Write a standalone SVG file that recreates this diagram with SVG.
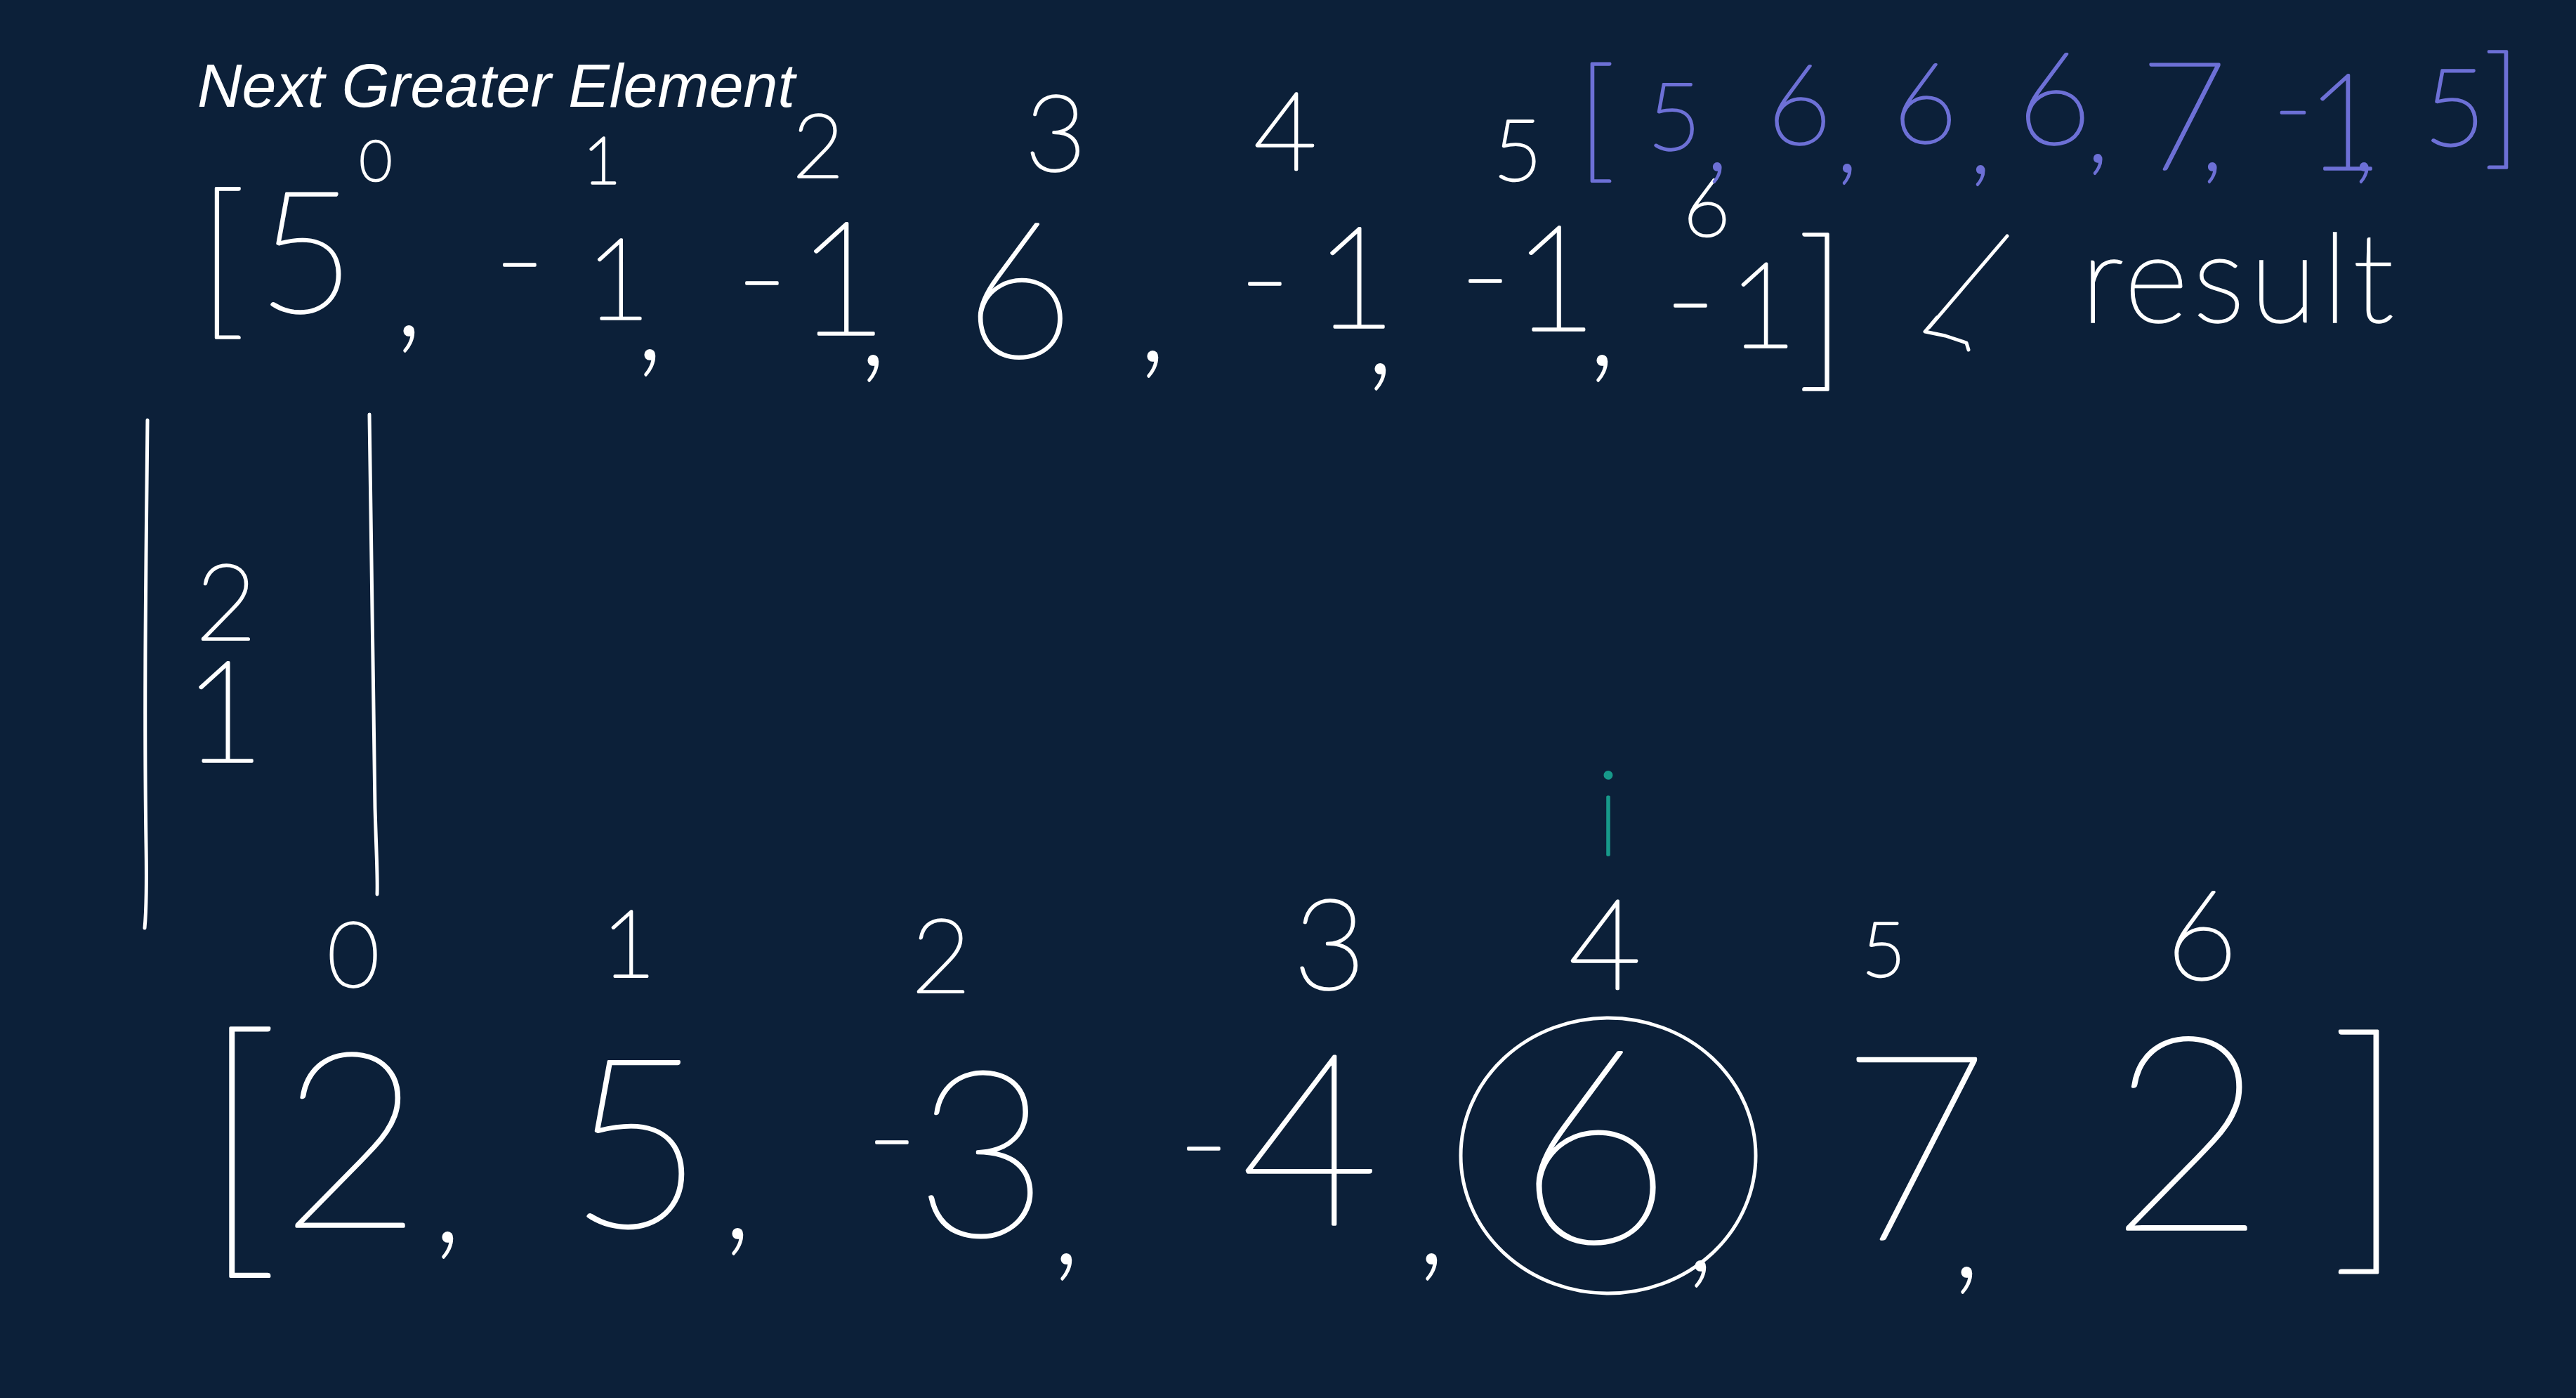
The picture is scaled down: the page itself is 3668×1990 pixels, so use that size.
<svg xmlns="http://www.w3.org/2000/svg" width="3668" height="1990" viewBox="0 0 3668 1990">
<style>
.h{font-family:Lato,"Noto Sans",Inter,sans-serif;font-weight:100;text-anchor:middle;stroke-width:3.5;stroke-linejoin:round}
.w{fill:#ffffff;stroke:#ffffff}
.b{fill:#6d70d6;stroke:#6d70d6}
.t{fill:#17998a;stroke:#17998a}
.ln{fill:none;stroke:#ffffff;stroke-width:5;stroke-linecap:round;stroke-linejoin:round}
</style>
<rect width="3668" height="1990" fill="#0c2039"/>
<text x="281" y="152" font-family="Liberation Sans, Arial, sans-serif" font-style="italic" font-size="88" fill="#ffffff">Next Greater Element</text>

<g id="result-indices" class="h w">
<text x="535" y="257" font-size="80">0</text>
<text x="857" y="261" font-size="93">1</text>
<text x="1165" y="253" font-size="126">2</text>
<text x="1503" y="243" font-size="150">3</text>
<text x="1830" y="241" font-size="155">4</text>
<text x="2161" y="257" font-size="120">5</text>
<text x="2430" y="336" font-size="115">6</text>
</g>

<g id="result-array" class="h w">
<text x="316" y="452" font-size="244">[</text>
<text><tspan x="436" y="444" font-size="240">5</tspan><tspan x="582" y="476" font-size="200">,</tspan></text>
<text><tspan x="740" y="436" font-size="200">-</tspan><tspan x="880" y="454" font-size="160">1</tspan><tspan x="925" y="510" font-size="200">,</tspan></text>
<text><tspan x="1085" y="462" font-size="200">-</tspan><tspan x="1199" y="476" font-size="225">1</tspan><tspan x="1243" y="518" font-size="200">,</tspan></text>
<text><tspan x="1451" y="508" font-size="270">6</tspan><tspan x="1641" y="512" font-size="200">,</tspan></text>
<text><tspan x="1801" y="463" font-size="200">-</tspan><tspan x="1930" y="466" font-size="200">1</tspan><tspan x="1965" y="530" font-size="200">,</tspan></text>
<text><tspan x="2115" y="459" font-size="200">-</tspan><tspan x="2214" y="470" font-size="208">1</tspan><tspan x="2281" y="518" font-size="200">,</tspan></text>
<text><tspan x="2407" y="494" font-size="200">-</tspan><tspan x="2510" y="494" font-size="168">1</tspan></text>
<text x="2594" y="524" font-size="255">]</text>
</g>

<g id="result-label">
<path class="ln" d="M2858 336 L2747 466 M2758 452 L2741 472 L2770 478 L2800 488 L2803 498"/>
<text x="2963" y="458" fill="#ffffff" stroke="#ffffff" stroke-width="3.5" font-family="Lato,'Noto Sans',sans-serif" font-weight="100" font-size="175" textLength="445" lengthAdjust="spacing">result</text>
</g>

<g id="blue-array" class="h b">
<text x="2273" y="235" font-size="192">[</text>
<text><tspan x="2384" y="213" font-size="132">5</tspan><tspan x="2445" y="241" font-size="150">,</tspan></text>
<text><tspan x="2562" y="205" font-size="158">6</tspan><tspan x="2630" y="243" font-size="150">,</tspan></text>
<text><tspan x="2741" y="203" font-size="158">6</tspan><tspan x="2820" y="245" font-size="150">,</tspan></text>
<text><tspan x="2925" y="205" font-size="183">6</tspan><tspan x="2987" y="229" font-size="150">,</tspan></text>
<text><tspan x="3109" y="241" font-size="214">7</tspan><tspan x="3150" y="241" font-size="150">,</tspan></text>
<text><tspan x="3265" y="205" font-size="150">-</tspan><tspan x="3338" y="241" font-size="190">1</tspan><tspan x="3366" y="241" font-size="150">,</tspan></text>
<text x="3495" y="207" font-size="153">5</text>
<text x="3563" y="216" font-size="190">]</text>
</g>

<g id="stack">
<path class="ln" d="M210 598 C208 800 205 1000 208 1200 C209 1260 208 1300 206 1321"/>
<path class="ln" d="M526 590 C530 800 532 1000 534 1150 C536 1220 538 1250 537 1273"/>
<g class="h w">
<text x="322" y="911" font-size="150">2</text>
<text x="319" y="1084" font-size="200">1</text>
</g>
</g>

<g id="input-indices" class="h w">
<text x="503" y="1404" font-size="128">0</text>
<text x="895" y="1390" font-size="133">1</text>
<text x="1340" y="1413" font-size="146">2</text>
<text x="1893" y="1408" font-size="178">3</text>
<text x="2285" y="1408" font-size="178">4</text>
<text x="2682" y="1390" font-size="108">5</text>
<text x="3135" y="1394" font-size="176">6</text>
</g>

<g id="pointer-i">
<text x="2290" y="1217" class="h t" font-size="168">i</text>
</g>

<g id="input-array" class="h w">
<text x="342" y="1768" font-size="406">[</text>
<text><tspan x="500" y="1746" font-size="349">2</tspan><tspan x="637" y="1766" font-size="200">,</tspan></text>
<text><tspan x="906" y="1746" font-size="336">5</tspan><tspan x="1050" y="1761" font-size="200">,</tspan></text>
<text><tspan x="1270" y="1685" font-size="200">-</tspan><tspan x="1398" y="1759" font-size="330">3</tspan><tspan x="1518" y="1797" font-size="200">,</tspan></text>
<text><tspan x="1714" y="1694" font-size="200">-</tspan><tspan x="1865" y="1743" font-size="342">4</tspan><tspan x="2038" y="1797" font-size="200">,</tspan></text>
<text><tspan x="2270" y="1768" font-size="386">6</tspan><tspan x="2421" y="1807" font-size="200">,</tspan></text>
<text><tspan x="2726" y="1764" font-size="368">7</tspan><tspan x="2800" y="1816" font-size="200">,</tspan></text>
<text x="3115" y="1750" font-size="386">2</text>
<text x="3372" y="1764" font-size="395">]</text>
</g>

<g id="circle-mark">
<ellipse class="ln" cx="2290" cy="1645" rx="210" ry="196"/>
</g>
</svg>
